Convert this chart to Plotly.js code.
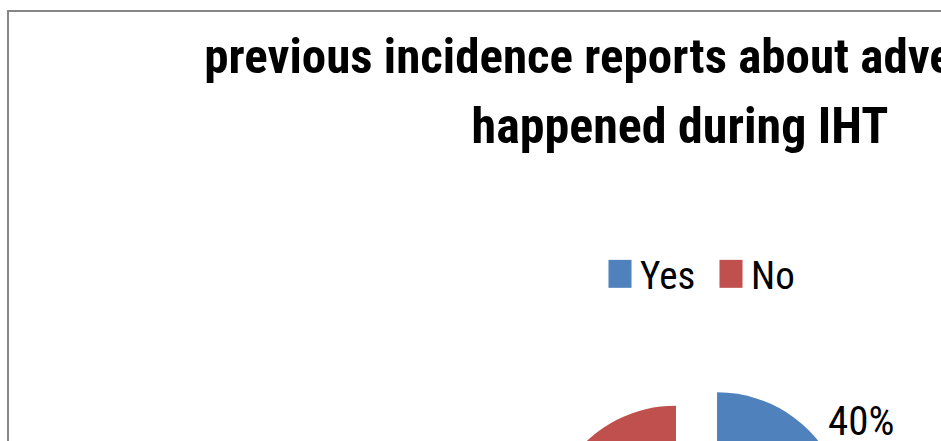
<!DOCTYPE html>
<html>
<head>
<meta charset="utf-8">
<script src="https://cdn.plot.ly/plotly-3.0.1.min.js"></script>
<style>
  html, body { margin: 0; padding: 0; width: 941px; height: 441px; overflow: hidden; background: #ffffff; }
  #frame { position: absolute; left: 7px; top: 10px; width: 1400px; height: 700px; border: 2px solid #868686; background: #ffffff; }
  #chart { position: absolute; left: 0; top: 0; width: 1400px; height: 700px; }
  /* enlarge pie legend swatches (Excel-style big squares) */
  #chart path.legendpie { transform: translate(20px, 0px) scale(1.92, 2.33); }
</style>
</head>
<body>
<div id="frame"><div id="chart"></div></div>
<script>
// ---- data ----
const categories = ['Yes', 'No'];
const values = [40, 60];
const sliceColors = ['#4F81BD', '#C0504D'];
const titleLines = ['previous incidence reports about adverse events', 'happened during IHT'];

const FONT = '"Liberation Sans Narrow", "Roboto Condensed", "DejaVu Sans Condensed", Roboto, sans-serif';
const total = values.reduce((a, b) => a + b, 0);
const pctText = values.map(v => Math.round(v / total * 100) + '%');

const W = 1400, H = 700;
const lineSizes = [49, 50];

const trace = {
  type: 'pie',
  labels: categories,
  values: values,
  sort: false,
  direction: 'clockwise',
  rotation: 0,
  pull: 0.166,
  marker: { colors: sliceColors, line: { width: 0 } },
  textinfo: 'none',
  hoverinfo: 'none',
  domain: { x: [0.38279, 0.59936], y: [0.04486, 0.47800] },
  showlegend: true
};

const layout = {
  width: W,
  height: H,
  margin: { l: 0, r: 0, t: 0, b: 0 },
  paper_bgcolor: '#ffffff',
  plot_bgcolor: '#ffffff',
  title: {
    text: titleLines.map((t, i) => '<span style="font-size:' + lineSizes[i] + 'px">' + t + '</span>').join('<br>'),
    font: { family: FONT, size: 54, color: '#000000', weight: 'bold' },
    x: 0.4793, xref: 'container', xanchor: 'center',
    y: 1 - 61.2 / H, yref: 'container', yanchor: 'top'
  },
  legend: {
    orientation: 'h',
    x: 591 / W, xanchor: 'left',
    y: 1 - 230 / H, yanchor: 'top',
    font: { family: FONT, size: 39, color: '#000000' },
    entrywidth: 66,
    traceorder: 'normal',
    bgcolor: 'rgba(0,0,0,0)'
  },
  annotations: [
    {
      text: pctText[0], xref: 'paper', yref: 'paper',
      x: 817 / W, xanchor: 'left', y: 1 - 409 / H, yanchor: 'middle',
      showarrow: false, font: { family: FONT, size: 41, color: '#000000' }
    },
    {
      text: pctText[1], xref: 'paper', yref: 'paper',
      x: 500 / W, xanchor: 'right', y: 1 - 600 / H, yanchor: 'middle',
      showarrow: false, font: { family: FONT, size: 41, color: '#000000' }
    }
  ]
};

Plotly.newPlot('chart', [trace], layout, { displayModeBar: false, staticPlot: true });
</script>
</body>
</html>
